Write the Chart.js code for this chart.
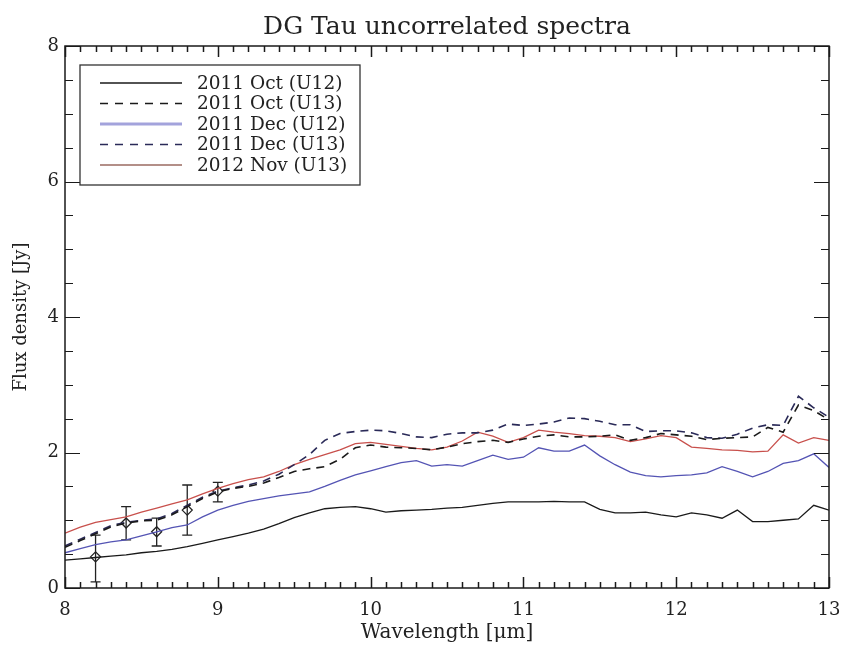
<!DOCTYPE html>
<html>
<head>
<meta charset="utf-8">
<script src="https://cdn.jsdelivr.net/npm/chart.js@4.4.1/dist/chart.umd.min.js"></script>
<style>
  body { margin: 0; background: #fff; }
  #wrap { width: 845px; height: 645px; }
</style>
</head>
<body>
<div id="wrap"><canvas id="spectra" width="845" height="645"></canvas></div>
<script>
// wavelength grid (micron)
const wavelength = [8.0, 8.1, 8.2, 8.3, 8.4, 8.5, 8.6, 8.7, 8.8, 8.9,
  9.0, 9.1, 9.2, 9.3, 9.4, 9.5, 9.6, 9.7, 9.8, 9.9,
  10.0, 10.1, 10.2, 10.3, 10.4, 10.5, 10.6, 10.7, 10.8, 10.9,
  11.0, 11.1, 11.2, 11.3, 11.4, 11.5, 11.6, 11.7, 11.8, 11.9,
  12.0, 12.1, 12.2, 12.3, 12.4, 12.5, 12.6, 12.7, 12.8, 12.9, 13.0];

const oct11U12 = [0.41, 0.43, 0.45, 0.47, 0.49, 0.52, 0.54, 0.57, 0.61, 0.66,
  0.71, 0.76, 0.81, 0.87, 0.95, 1.04, 1.11, 1.17, 1.19, 1.20,
  1.17, 1.12, 1.14, 1.15, 1.16, 1.18, 1.19, 1.22, 1.25, 1.27,
  1.27, 1.27, 1.28, 1.27, 1.27, 1.16, 1.11, 1.11, 1.12, 1.08,
  1.05, 1.11, 1.08, 1.03, 1.15, 0.98, 0.98, 1.00, 1.02, 1.22, 1.15];

const oct11U13 = [0.60, 0.70, 0.80, 0.90, 0.96, 0.99, 1.00, 1.08, 1.20, 1.32,
  1.42, 1.47, 1.50, 1.55, 1.63, 1.72, 1.76, 1.79, 1.90, 2.07,
  2.11, 2.08, 2.07, 2.06, 2.04, 2.08, 2.13, 2.16, 2.18, 2.15,
  2.20, 2.24, 2.26, 2.23, 2.23, 2.24, 2.26, 2.18, 2.22, 2.28,
  2.26, 2.24, 2.19, 2.21, 2.22, 2.23, 2.37, 2.30, 2.70, 2.62, 2.48];

const dec11U12 = [0.52, 0.58, 0.64, 0.68, 0.71, 0.77, 0.83, 0.89, 0.93, 1.05,
  1.15, 1.22, 1.28, 1.32, 1.36, 1.39, 1.42, 1.50, 1.59, 1.67,
  1.73, 1.79, 1.85, 1.88, 1.80, 1.82, 1.80, 1.88, 1.96, 1.90,
  1.93, 2.07, 2.02, 2.02, 2.11, 1.95, 1.82, 1.71, 1.66, 1.64,
  1.66, 1.67, 1.70, 1.79, 1.72, 1.64, 1.72, 1.84, 1.88, 1.98, 1.78];

const dec11U13 = [0.62, 0.72, 0.82, 0.92, 0.97, 1.00, 1.02, 1.10, 1.22, 1.34,
  1.43, 1.48, 1.52, 1.58, 1.68, 1.82, 1.97, 2.18, 2.28, 2.31,
  2.33, 2.32, 2.28, 2.23, 2.22, 2.27, 2.29, 2.29, 2.33, 2.42,
  2.40, 2.42, 2.45, 2.51, 2.50, 2.46, 2.41, 2.41, 2.31, 2.32,
  2.32, 2.29, 2.22, 2.21, 2.27, 2.36, 2.41, 2.40, 2.83, 2.66, 2.52];

const nov12U13 = [0.81, 0.90, 0.97, 1.01, 1.05, 1.12, 1.18, 1.24, 1.30, 1.39,
  1.47, 1.54, 1.60, 1.64, 1.72, 1.82, 1.90, 1.97, 2.04, 2.13,
  2.15, 2.12, 2.09, 2.06, 2.04, 2.08, 2.17, 2.30, 2.24, 2.15,
  2.22, 2.33, 2.30, 2.28, 2.25, 2.24, 2.22, 2.16, 2.20, 2.25,
  2.22, 2.08, 2.06, 2.04, 2.03, 2.01, 2.02, 2.26, 2.14, 2.22, 2.18];

// total-flux points with error bars
const errWave = [8.2, 8.4, 8.6, 8.8, 9.0];
const errFlux = [0.46, 0.96, 0.83, 1.15, 1.43];
const errLow = [0.09, 0.71, 0.62, 0.78, 1.27];
const errHigh = [0.78, 1.20, 1.03, 1.52, 1.56];

const xTicks = [8, 9, 10, 11, 12, 13];
const yTicks = [0, 2, 4, 6, 8];

const titleText = 'DG Tau uncorrelated spectra';
const serif = "'DejaVu Serif', 'Liberation Serif', serif";

function pts(ys) {
    return wavelength.map((w, i) => ({ x: w, y: ys[i] }));
}

const series = [
    { label: '2011 Oct (U12)', data: oct11U12, color: '#1a1a1a', width: 1.3, dash: [], legendColor: '#1a1a1a', legendWidth: 1.3 },
    { label: '2011 Oct (U13)', data: oct11U13, color: '#1a1a1a', width: 1.6, dash: [8, 6], legendColor: '#1a1a1a', legendWidth: 1.3 },
    { label: '2011 Dec (U12)', data: dec11U12, color: '#5454b4', width: 1.3, dash: [], legendColor: '#a3a3dc', legendWidth: 3 },
    { label: '2011 Dec (U13)', data: dec11U13, color: '#2a2a58', width: 1.6, dash: [8, 6], legendColor: '#2a2a58', legendWidth: 1.3 },
    { label: '2012 Nov (U13)', data: nov12U13, color: '#c8504c', width: 1.3, dash: [], legendColor: '#9a6a60', legendWidth: 1.5 }
];

const datasets = series.map(s => ({
    label: s.label,
    data: pts(s.data),
    borderColor: s.color,
    borderWidth: s.width,
    borderDash: s.dash,
    pointRadius: 0,
    fill: false,
    tension: 0
}));

datasets.push({
    label: 'errors',
    data: errWave.map((w, i) => ({ x: w, y: errFlux[i] })),
    showLine: false,
    pointStyle: 'rectRot',
    pointRadius: 5,
    borderColor: '#222',
    backgroundColor: 'rgba(0,0,0,0)',
    pointBorderWidth: 1.3
});

// IDL-like frame with inward ticks, error bars, title and boxed legend
const idlFrame = {
    id: 'idlFrame',
    beforeDatasetsDraw(chart) {
        const { ctx, scales: { x, y } } = chart;
        ctx.save();
        ctx.strokeStyle = '#222';
        ctx.lineWidth = 1.3;
        errWave.forEach((w, i) => {
            const px = x.getPixelForValue(w);
            const lo = y.getPixelForValue(errLow[i]);
            const hi = y.getPixelForValue(errHigh[i]);
            ctx.beginPath();
            ctx.moveTo(px, lo); ctx.lineTo(px, hi);
            ctx.moveTo(px - 5, lo); ctx.lineTo(px + 5, lo);
            ctx.moveTo(px - 5, hi); ctx.lineTo(px + 5, hi);
            ctx.stroke();
        });
        ctx.restore();
    },
    afterDraw(chart) {
        const { ctx, chartArea: a, scales: { x, y } } = chart;
        ctx.save();
        ctx.setLineDash([]);
        ctx.strokeStyle = '#1a1a1a';
        ctx.lineWidth = 1.5;
        ctx.strokeRect(a.left, a.top, a.right - a.left, a.bottom - a.top);

        // inward ticks: x every 0.1, y every 0.5
        ctx.lineWidth = 1.5;
        wavelength.forEach((w, i) => {
            const px = Math.round(x.getPixelForValue(w)) + 0.5;
            const len = i % 10 === 0 ? 11 : 6;
            ctx.beginPath();
            ctx.moveTo(px, a.bottom); ctx.lineTo(px, a.bottom - len);
            ctx.moveTo(px, a.top); ctx.lineTo(px, a.top + len);
            ctx.stroke();
        });
        ctx.lineWidth = 1.2;
        ctx.beginPath();
        for (let i = 0; i <= 16; i++) {
            const py = Math.round(y.getPixelForValue(i / 2)) + 0.5;
            const len = i % 4 === 0 ? 15 : 8;
            ctx.moveTo(a.left, py);
            ctx.lineTo(a.left + len, py);
            ctx.moveTo(a.right, py);
            ctx.lineTo(a.right - len, py);
        }
        ctx.stroke();

        // title centred over the plot area
        ctx.fillStyle = '#222';
        ctx.font = '25px ' + serif;
        ctx.textAlign = 'center';
        ctx.textBaseline = 'middle';
        ctx.fillText(titleText, (a.left + a.right) / 2, 27);

        // legend box
        const bx = a.left + 15, by = a.top + 19, bw = 280, bh = 120;
        ctx.fillStyle = '#fff';
        ctx.fillRect(bx, by, bw, bh);
        ctx.lineWidth = 1.3;
        ctx.strokeStyle = '#333';
        ctx.strokeRect(bx, by, bw, bh);
        ctx.font = '18.5px ' + serif;
        ctx.textBaseline = 'middle';
        ctx.textAlign = 'left';
        series.forEach((s, i) => {
            const ry = by + 18 + i * 20.5;
            ctx.beginPath();
            ctx.strokeStyle = s.legendColor;
            ctx.lineWidth = s.legendWidth;
            ctx.setLineDash(s.dash.length ? [8, 7] : []);
            ctx.moveTo(bx + 20, ry);
            ctx.lineTo(bx + 102, ry);
            ctx.stroke();
            ctx.setLineDash([]);
            ctx.fillStyle = '#222';
            ctx.fillText(s.label, bx + 117, ry + 1);
        });
        ctx.restore();
    }
};

new Chart(document.getElementById('spectra'), {
    type: 'line',
    data: { datasets },
    plugins: [idlFrame],
    options: {
        responsive: false,
        animation: false,
        layout: { padding: { left: 0, right: 16, top: 46, bottom: 0 } },
        plugins: {
            legend: { display: false },
            tooltip: { enabled: false },
            title: { display: false }
        },
        scales: {
            x: {
                type: 'linear',
                min: 8,
                max: 13,
                afterBuildTicks: s => { s.ticks = xTicks.map(v => ({ value: v })); },
                afterFit: s => { s.height = 57; s.paddingLeft = 0; s.paddingRight = 0; },
                grid: { display: false, drawTicks: false },
                border: { display: false },
                ticks: { color: '#222', font: { family: serif, size: 18 }, padding: 12, maxRotation: 0 },
                title: { display: true, text: 'Wavelength [μm]', color: '#222', font: { family: serif, size: 20 }, padding: { top: 0, bottom: 0 } }
            },
            y: {
                type: 'linear',
                min: 0,
                max: 8,
                afterBuildTicks: s => { s.ticks = yTicks.map(v => ({ value: v })); },
                afterFit: s => { s.width = 65; },
                grid: { display: false, drawTicks: false },
                border: { display: false },
                ticks: { color: '#222', font: { family: serif, size: 18 }, padding: 6 },
                title: { display: true, text: 'Flux density [Jy]', color: '#222', font: { family: serif, size: 18 }, padding: { top: 11, bottom: 0 } }
            }
        }
    }
});
</script>
</body>
</html>
